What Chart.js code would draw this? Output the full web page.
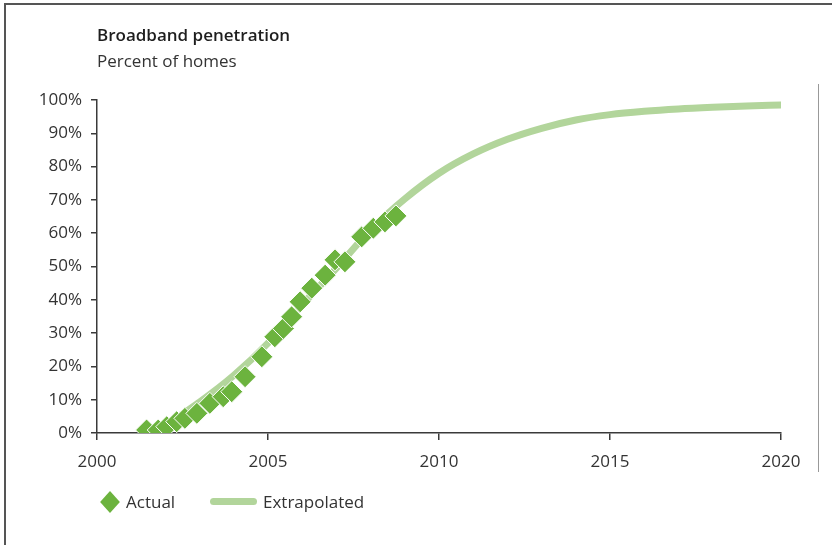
<!DOCTYPE html>
<html>
<head>
<meta charset="utf-8">
<title>Broadband penetration</title>
<script src="https://cdn.jsdelivr.net/npm/chart.js@4/dist/chart.umd.min.js"></script>
<style>
  html, body { margin: 0; padding: 0; background: #fff; }
  #wrap { position: relative; width: 832px; height: 545px; overflow: hidden;
          font-family: "Open Sans", sans-serif; color: #333; }
  #chart { position: absolute; left: 0; top: 0; }
  .frame { position: absolute; background: #555; }
  #frameTop { left: 4px; top: 3px; width: 828px; height: 2px; }
  #frameLeft { left: 4px; top: 3px; width: 2px; height: 542px; }
  #rule { position: absolute; left: 818px; top: 84px; width: 1px; height: 388px; background: #999; }
  .txt { position: absolute; font-size: 17px; line-height: 20px; white-space: nowrap; }
  #title { left: 97px; top: 25px; font-weight: 600; color: #1e1e1e; }
  #subtitle { left: 97px; top: 51px; }
  #legend .diamond { position: absolute; left: 103px; top: 495px; width: 14px; height: 14px;
                     background: #6cb33e; transform: scale(1, 1.1) rotate(45deg); }
  #legend .swatch { position: absolute; left: 210px; top: 498px; width: 47px; height: 7px;
                    border-radius: 4px; background: #b2d59b; }
  #lgActual { left: 126px; top: 492px; }
  #lgExtra { left: 263px; top: 492px; }
</style>
</head>
<body>
<div id="wrap">
  <canvas id="chart" width="832" height="545"></canvas>
  <div class="frame" id="frameTop"></div>
  <div class="frame" id="frameLeft"></div>
  <div id="rule"></div>
  <div class="txt" id="title">Broadband penetration</div>
  <div class="txt" id="subtitle">Percent of homes</div>
  <div id="legend">
    <div class="diamond"></div>
    <div class="txt" id="lgActual">Actual</div>
    <div class="swatch"></div>
    <div class="txt" id="lgExtra">Extrapolated</div>
  </div>
</div>
<script>
// Observed penetration (year, percent of homes)
const actualYears = [2001.45, 2001.79, 2002.04, 2002.33, 2002.57, 2002.92, 2003.30, 2003.69, 2003.94,
                     2004.33, 2004.82, 2005.20, 2005.45, 2005.69, 2005.94, 2006.28, 2006.67, 2006.96,
                     2007.25, 2007.74, 2008.08, 2008.42, 2008.74];
const actualValues = [0.9, 0.9, 1.9, 3.4, 4.4, 5.9, 8.9, 10.9, 12.4,
                      16.9, 22.9, 28.9, 31.4, 34.9, 39.4, 43.5, 47.4, 52.0,
                      51.4, 58.9, 61.5, 63.4, 65.2];

// Fitted S-curve projection
const trendYears = [2001.5, 2002, 2003, 2004, 2005, 2006, 2007, 2008, 2009, 2010,
                    2011, 2012, 2013, 2014, 2015, 2016, 2017, 2018, 2019, 2020];
const trendValues = [0.5, 2.5, 9.3, 17.3, 27, 38.5, 49.5, 61, 70.3, 78,
                     83.8, 88.2, 91.5, 94, 95.6, 96.6, 97.3, 97.8, 98.2, 98.5];

const xTicks = [2000, 2005, 2010, 2015, 2020];
const yTicks = [0, 10, 20, 30, 40, 50, 60, 70, 80, 90, 100];

const toXY = (xs, ys) => xs.map((x, i) => ({ x: x, y: ys[i] }));
const axisColor = '#3a3a3a';
const tickFont = { family: '"Open Sans", sans-serif', size: 17 };

new Chart(document.getElementById('chart'), {
  type: 'line',
  data: {
    datasets: [
      {
        label: 'Actual',
        data: toXY(actualYears, actualValues),
        showLine: false,
        pointStyle: 'rectRot',
        pointRadius: 11,
        pointBackgroundColor: '#6cb33e',
        pointBorderColor: '#ffffff',
        pointBorderWidth: 1
      },
      {
        label: 'Extrapolated',
        data: toXY(trendYears, trendValues),
        borderColor: '#b2d59b',
        borderWidth: 7,
        borderCapStyle: 'round',
        borderJoinStyle: 'round',
        cubicInterpolationMode: 'monotone',
        pointRadius: 0,
        fill: false
      }
    ]
  },
  options: {
    responsive: false,
    animation: false,
    events: [],
    layout: { padding: { left: 0, right: 51, top: 100, bottom: 0 } },
    plugins: { legend: { display: false }, tooltip: { enabled: false } },
    scales: {
      x: {
        type: 'linear',
        min: 2000,
        max: 2020,
        afterBuildTicks: s => { s.ticks = xTicks.map(v => ({ value: v })); },
        afterFit: s => { s.height = 112; },
        ticks: { callback: v => String(v), font: tickFont, color: '#333', padding: 12, maxRotation: 0 },
        grid: { drawOnChartArea: false, drawTicks: true, tickLength: 7, color: axisColor, lineWidth: 1.5 },
        border: { display: true, color: axisColor, width: 1.5 }
      },
      y: {
        min: 0,
        max: 100,
        afterBuildTicks: s => { s.ticks = yTicks.map(v => ({ value: v })); },
        afterFit: s => { s.width = 97; },
        ticks: { callback: v => v + '%', font: tickFont, color: '#333', padding: 9 },
        grid: { drawOnChartArea: false, drawTicks: true, tickLength: 6, color: axisColor, lineWidth: 1.5 },
        border: { display: true, color: axisColor, width: 1.5 }
      }
    }
  }
});
</script>
</body>
</html>
